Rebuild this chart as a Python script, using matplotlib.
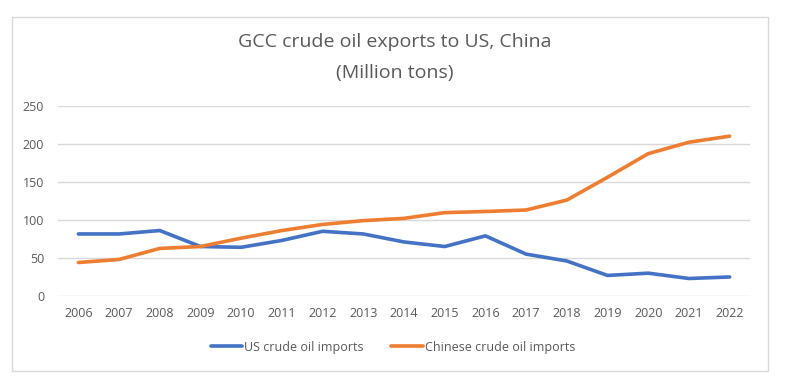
import matplotlib
matplotlib.use("Agg")
import matplotlib.pyplot as plt
from matplotlib.patches import Rectangle

years = [str(y) for y in range(2006, 2023)]
us_imports = [81.5, 81.5, 86, 65, 64, 73, 85, 81.5, 71, 65, 79, 55, 46, 27, 30, 23, 25]
china_imports = [44, 48, 62.5, 65, 76, 86, 94, 99, 102, 109.5, 111, 113, 126, 156, 187, 202, 210]
yticks = [0, 50, 100, 150, 200, 250]

plt.rcParams['font.family'] = ['Open Sans', 'DejaVu Sans']
W, H = 791, 384
fig = plt.figure(figsize=(W/100, H/100), dpi=100)
fig.patch.set_facecolor('white')

fig.add_artist(Rectangle((12/W, 1-371/H), (768-12)/W, (371-17)/H, transform=fig.transFigure,
                         fill=False, edgecolor='#d9d9d9', linewidth=1.0))

ax = fig.add_axes([58/W, 1-296/H, (750-58)/W, (296-105.7)/H])
x = list(range(len(years)))
l1, = ax.plot(x, us_imports, color='#4472c4', lw=2.6, solid_capstyle='round', label='US crude oil imports')
l2, = ax.plot(x, china_imports, color='#ed7d31', lw=2.6, solid_capstyle='round', label='Chinese crude oil imports')
ax.set_xlim(-0.5, len(years)-0.5)
ax.set_ylim(0, 250)
ax.set_yticks(yticks)
ax.set_xticks(x)
ax.set_xticklabels(years)
ax.grid(axis='y', color='#d9d9d9', lw=1)
ax.set_axisbelow(True)
for s in ax.spines.values():
    s.set_visible(False)
ax.tick_params(length=0, labelsize=9, colors='#595959', pad=8)
ax.tick_params(axis='y', pad=10)

fig.text(395/W, 1-42/H, 'GCC crude oil exports to US, China', ha='center', va='center', fontsize=14, color='#595959')
fig.text(395/W, 1-73/H, '(Million tons)', ha='center', va='center', fontsize=14, color='#595959')

leg = fig.legend(handles=[l1, l2], loc='center', bbox_to_anchor=(393/W, 1-347/H), ncol=2, frameon=False,
                 fontsize=9, labelcolor='#595959', handlelength=2.5, handletextpad=0.2, columnspacing=2.2)

fig.savefig('out.png', dpi=100)
